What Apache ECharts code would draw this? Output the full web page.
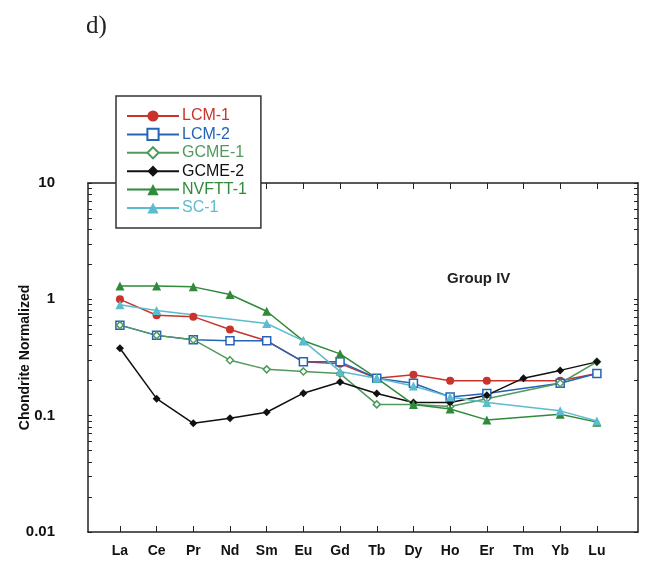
<!DOCTYPE html>
<html>
<head>
<meta charset="utf-8">
<script src="https://cdn.jsdelivr.net/npm/echarts@6/dist/echarts.min.js"></script>
<style>
  html, body { margin: 0; padding: 0; background: #fff; }
  #chart { width: 649px; height: 567px; }
</style>
</head>
<body>
<div id="chart"></div>
<script>
// REE categories on the x axis
const elements = ['La', 'Ce', 'Pr', 'Nd', 'Sm', 'Eu', 'Gd', 'Tb', 'Dy', 'Ho', 'Er', 'Tm', 'Yb', 'Lu'];

// chondrite-normalized values (null = no analysis)
const lcm1   = [1.0, 0.73, 0.71, 0.55, 0.44, 0.29, 0.28, 0.21, 0.225, 0.2, 0.2, null, 0.2, 0.23];
const lcm2   = [0.6, 0.49, 0.45, 0.44, 0.44, 0.29, 0.29, 0.21, 0.19, 0.145, 0.155, null, 0.19, 0.23];
const gcme1  = [0.6, 0.49, 0.45, 0.30, 0.25, 0.24, 0.23, 0.125, 0.125, 0.12, 0.14, null, 0.19, 0.29];
const gcme2  = [0.38, 0.14, 0.086, 0.095, 0.107, 0.156, 0.195, 0.155, 0.13, 0.13, 0.15, 0.21, 0.245, 0.29];
const nvftt1 = [1.3, 1.3, 1.28, 1.1, 0.79, 0.44, 0.34, 0.21, 0.125, 0.114, 0.092, null, 0.103, 0.088];
const sc1    = [0.9, 0.8, null, null, 0.62, 0.44, 0.24, 0.21, 0.18, 0.145, 0.13, null, 0.11, 0.09];

const yLabels = [0.01, 0.1, 1, 10];

// log ticks: 1..9 per decade
const yTicks = [];
[0.01, 0.1, 1].forEach((d) => {
  for (let k = 1; k <= 9; k++) yTicks.push(+(d * k).toPrecision(3));
});
yTicks.push(10);

const xIdx = elements.map((_, i) => i);

// drop missing points so the line runs straight across them
const toPairs = (arr) => arr.map((v, i) => [i, v]).filter((p) => p[1] != null);

const chart = echarts.init(document.getElementById('chart'));

const font = 'Liberation Sans, Arial, sans-serif';

function lineSeries(name, values, color, symbol, size, open) {
  return {
    name,
    type: 'line',
    data: toPairs(values),
    symbol,
    symbolSize: size,
    lineStyle: { color, width: 1.5 },
    itemStyle: open
      ? { color: '#fff', borderColor: color, borderWidth: 1.5 }
      : { color },
    emphasis: { disabled: true },
  };
}

const legendItems = [
  { name: 'LCM-1', color: '#c8332b' },
  { name: 'LCM-2', color: '#2563b5' },
  { name: 'GCME-1', color: '#4f9a5c' },
  { name: 'GCME-2', color: '#111111' },
  { name: 'NVFTT-1', color: '#2f8a3a' },
  { name: 'SC-1', color: '#5bbcd0' },
];

const frameLine = { show: true, onZero: false, lineStyle: { color: '#222', width: 1.5 } };

chart.setOption({
  backgroundColor: '#fff',
  animation: false,
  textStyle: { fontFamily: font },
  grid: { left: 88, right: 11, top: 183, bottom: 35, outerBoundsMode: 'none' },
  legend: {
    orient: 'vertical',
    left: 116,
    top: 96,
    padding: [12, 14, 12, 10],
    itemWidth: 52,
    itemHeight: 14,
    itemGap: 2.4,
    backgroundColor: '#fff',
    borderColor: '#333',
    borderWidth: 1.5,
    borderRadius: 0,
    z: 10,
    textStyle: { fontSize: 16, fontFamily: font, padding: [0, 0, 0, -2] },
    data: legendItems.map((l) => ({ name: l.name, textStyle: { color: l.color } })),
  },
  xAxis: [
    {
      type: 'value',
      min: -0.87,
      max: 14.12,
      axisLine: frameLine,
      axisTick: { show: true, inside: true, length: 6, customValues: xIdx, lineStyle: { color: '#222' } },
      axisLabel: {
        customValues: xIdx,
        formatter: (v) => elements[Math.round(v)] || '',
        color: '#111',
        fontWeight: 'bold',
        fontSize: 14,
        margin: 12,
      },
      splitLine: { show: false },
    },
    {
      type: 'value',
      position: 'top',
      min: -0.87,
      max: 14.12,
      axisLine: frameLine,
      axisTick: { show: true, inside: true, length: 6, customValues: xIdx, lineStyle: { color: '#222' } },
      axisLabel: { show: false },
      splitLine: { show: false },
    },
  ],
  yAxis: [
    {
      type: 'log',
      min: 0.01,
      max: 10,
      name: 'Chondrite Normalized',
      nameLocation: 'middle',
      nameGap: 56,
      nameMoveOverlap: false,
      nameTextStyle: { fontWeight: 'bold', fontSize: 14, color: '#111' },
      axisLine: frameLine,
      axisTick: { show: true, inside: true, length: 4, customValues: yTicks, lineStyle: { color: '#222' } },
      axisLabel: {
        customValues: yLabels,
        formatter: (v) => String(v),
        color: '#111',
        fontWeight: 'bold',
        fontSize: 15,
        margin: 33,
      },
      splitLine: { show: false },
    },
    {
      type: 'log',
      position: 'right',
      min: 0.01,
      max: 10,
      axisLine: frameLine,
      axisTick: { show: true, inside: true, length: 4, customValues: yTicks, lineStyle: { color: '#222' } },
      axisLabel: { show: false },
      splitLine: { show: false },
    },
  ],
  graphic: [
    {
      type: 'text',
      left: 86,
      top: 14,
      style: { text: 'd)', font: '25px "Liberation Serif", "DejaVu Serif", serif', fill: '#222' },
    },
    {
      type: 'text',
      left: 447,
      top: 271,
      style: { text: 'Group IV', font: 'bold 15px "Liberation Sans", Arial, sans-serif', fill: '#222' },
    },
  ],
  series: [
    lineSeries('LCM-1', lcm1, '#c8332b', 'circle', 8, false),
    lineSeries('LCM-2', lcm2, '#2563b5', 'rect', 8, true),
    lineSeries('GCME-1', gcme1, '#4f9a5c', 'diamond', 7, true),
    lineSeries('GCME-2', gcme2, '#111111', 'diamond', 8, false),
    lineSeries('NVFTT-1', nvftt1, '#2f8a3a', 'triangle', 9, false),
    lineSeries('SC-1', sc1, '#5bbcd0', 'triangle', 9, false),
  ],
});
</script>
</body>
</html>
